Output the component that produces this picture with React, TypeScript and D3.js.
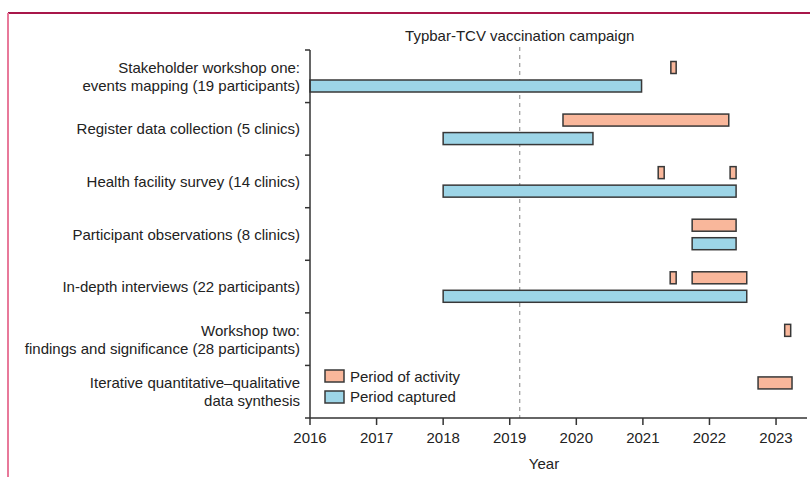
import React from "react";
import * as d3 from "d3";

// ---- data ----
const tasks: string[][] = [
  ["Stakeholder workshop one:", "events mapping (19 participants)"],
  ["Register data collection (5 clinics)"],
  ["Health facility survey (14 clinics)"],
  ["Participant observations (8 clinics)"],
  ["In-depth interviews (22 participants)"],
  ["Workshop two:", "findings and significance (28 participants)"],
  ["Iterative quantitative–qualitative", "data synthesis"],
];

// Period of activity: [task index, start year, end year]
const activityTask = [0, 1, 2, 2, 3, 4, 4, 5, 6];
const activityStart = [2021.42, 2019.8, 2021.23, 2022.31, 2021.74, 2021.41, 2021.74, 2023.13, 2022.73];
const activityEnd = [2021.5, 2022.29, 2021.32, 2022.4, 2022.4, 2021.5, 2022.56, 2023.22, 2023.24];

// Period captured
const capturedTask = [0, 1, 2, 3, 4];
const capturedStart = [2016, 2018, 2018, 2021.74, 2018];
const capturedEnd = [2020.98, 2020.25, 2022.4, 2022.4, 2022.56];

const yearTicks = [2016, 2017, 2018, 2019, 2020, 2021, 2022, 2023];
const campaignYear = 2019.15;
const campaignLabel = "Typbar-TCV vaccination campaign";
const legendLabels = ["Period of activity", "Period captured"];
const axisTitle = "Year";

// ---- style ----
const W = 810;
const H = 477;
const ORANGE = "#f9b79b";
const BLUE = "#9dd5e7";
const STROKE = "#383838";
const TEXT = "#222";
const FONT = "'Liberation Sans', Arial, sans-serif";
const FS = 15;

export default function App() {
  const x = d3.scaleLinear().domain([2016, 2023.465]).range([310, 807]);
  const y = d3
    .scaleBand<number>()
    .domain(d3.range(tasks.length))
    .range([50, 418])
    .paddingInner(0)
    .paddingOuter(0);
  const bw = y.bandwidth();
  const barH = 12;
  const actOff = 11.5;
  const capOff = 30;
  const boundaries = d3.range(tasks.length + 1).map((i) => 50 + i * bw);

  const activity = activityTask.map((t, i) => ({ t, s: activityStart[i], e: activityEnd[i] }));
  const captured = capturedTask.map((t, i) => ({ t, s: capturedStart[i], e: capturedEnd[i] }));

  return (
    <svg
      width={W}
      height={H}
      style={{ position: "absolute", left: 0, top: 0, background: "#fff" }}
      fontFamily={FONT}
    >
      <rect x={0} y={0} width={W} height={H} fill="#fff" />
      {/* frame */}
      <line x1={8} x2={W} y1={13} y2={13} stroke="#a8164a" strokeWidth={2} />
      <line x1={8} x2={8} y1={13} y2={H} stroke="#e8799a" strokeWidth={2} />

      {/* campaign line */}
      <line
        x1={x(campaignYear)}
        x2={x(campaignYear)}
        y1={47}
        y2={418}
        stroke="#9a9a9a"
        strokeWidth={1.2}
        strokeDasharray="4,4"
      />
      <text x={x(campaignYear)} y={40.5} textAnchor="middle" fontSize={FS} fill={TEXT}>
        {campaignLabel}
      </text>

      {/* bars: captured */}
      {captured.map((d, i) => (
        <rect
          key={"c" + i}
          x={x(d.s)}
          y={(y(d.t) as number) + capOff}
          width={x(d.e) - x(d.s)}
          height={barH}
          fill={BLUE}
          stroke={STROKE}
          strokeWidth={1.5}
        />
      ))}
      {/* bars: activity */}
      {activity.map((d, i) => (
        <rect
          key={"a" + i}
          x={x(d.s)}
          y={(y(d.t) as number) + actOff}
          width={x(d.e) - x(d.s)}
          height={barH}
          fill={ORANGE}
          stroke={STROKE}
          strokeWidth={1.5}
        />
      ))}

      {/* y axis */}
      <line x1={310} x2={310} y1={50} y2={418} stroke="#333" strokeWidth={1.5} />
      {boundaries.map((b, i) => (
        <line key={"yt" + i} x1={305} x2={310} y1={b} y2={b} stroke="#333" strokeWidth={1.5} />
      ))}
      {tasks.map((lines, i) => {
        const c = (y(i) as number) + bw / 2;
        const first = lines.length === 1 ? c + 5.5 : c - 3.5;
        return (
          <text key={"lab" + i} textAnchor="end" fontSize={FS} fill={TEXT}>
            {lines.map((l, j) => (
              <tspan key={j} x={300} y={first + j * 18}>
                {l}
              </tspan>
            ))}
          </text>
        );
      })}

      {/* x axis */}
      <line x1={310} x2={807} y1={418} y2={418} stroke="#333" strokeWidth={1.5} />
      {yearTicks.map((t) => (
        <g key={"xt" + t}>
          <line x1={x(t)} x2={x(t)} y1={418} y2={425} stroke="#333" strokeWidth={1.5} />
          <text x={x(t)} y={442.5} textAnchor="middle" fontSize={FS} fill={TEXT}>
            {t}
          </text>
        </g>
      ))}
      <text x={544} y={468.5} textAnchor="middle" fontSize={FS} fill={TEXT}>
        {axisTitle}
      </text>

      {/* legend */}
      {legendLabels.map((l, i) => (
        <g key={"lg" + i}>
          <rect
            x={325}
            y={370 + i * 21}
            width={19}
            height={12}
            fill={i === 0 ? ORANGE : BLUE}
            stroke={STROKE}
            strokeWidth={1.5}
          />
          <text x={350} y={381.5 + i * 20.5} fontSize={FS} fill={TEXT}>
            {l}
          </text>
        </g>
      ))}
    </svg>
  );
}
